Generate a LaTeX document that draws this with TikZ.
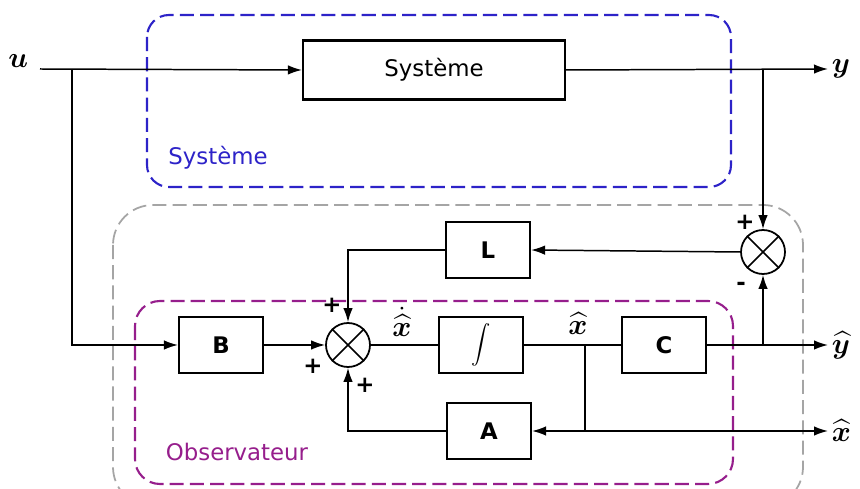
\documentclass[tikz,border=0pt]{standalone}
\usepackage{fix-cm}
\usepackage{fontspec}
\setmainfont{DejaVu Sans}
\usepackage{amsmath,bm}
\usetikzlibrary{positioning,arrows.meta}
\definecolor{sysblue}{RGB}{45,35,200}
\definecolor{obsviolet}{RGB}{150,30,140}
\definecolor{obsgray}{RGB}{165,165,165}
\newcommand{\blkfont}{\fontsize{13}{16}\selectfont}
\newcommand{\sigfont}{\fontsize{16.5}{19}\selectfont}

\begin{document}
\begin{tikzpicture}[x=0.2mm, y=-0.2mm,
    blk/.style={draw, line width=1.2pt, minimum width=1.68cm, minimum height=1.12cm, inner sep=0pt, font=\blkfont\bfseries},
    sum/.style={draw, circle, line width=1pt, minimum size=0.88cm, inner sep=0pt},
    sig/.style={-{Latex[length=2.8mm, width=1.9mm]}, line width=0.85pt},
    wire/.style={line width=0.85pt},
    zone/.style={line width=1.2pt, dash pattern=on 8pt off 3.5pt},
    sgn/.style={font=\fontsize{13}{15}\selectfont\bfseries, inner sep=1pt},
    lbl/.style={font=\sigfont, inner sep=2pt}
  ]
  \useasboundingbox (0,0) rectangle (860,489);

  \draw[zone, draw=obsgray, line width=1pt, rounded corners=8mm] (113,205) rectangle (803,507);
  \draw[zone, draw=sysblue, rounded corners=4.4mm] (147,15) rectangle (731,187);
  \draw[zone, draw=obsviolet, rounded corners=5mm] (135,301) rectangle (733,484);
  \node[font=\blkfont, text=sysblue] (syslbl) at (218,158) {Système};
  \node[font=\blkfont, text=obsviolet] (obslbl) at (237,452) {Observateur};

  \node[blk, minimum width=5.24cm, minimum height=1.18cm, font=\blkfont] (sys) at (434,70) {Système};
  \node[blk] (B) at (221,345) {B};
  \node[sum] (s1) at (348,345) {};
  \node[blk, font=\fontsize{11}{13}\selectfont] (int) at (481,345) {$\displaystyle\int$};
  \node[blk] (C) at (664,345) {C};
  \node[blk] (L) at (488,250) {L};
  \node[blk] (A) at (489,431) {A};
  \node[sum] (s2) at (763,252) {};
  \draw[line width=0.9pt] (s1.north west) -- (s1.south east) (s1.north east) -- (s1.south west);
  \draw[line width=0.9pt] (s2.north west) -- (s2.south east) (s2.north east) -- (s2.south west);

  \coordinate (uin) at (40,69);
  \coordinate (ubr) at (72,69);
  \coordinate (ybr) at (763,69);
  \coordinate (yout) at (828,69);
  \coordinate (xbr) at (585,345);
  \coordinate (xbr2) at (585,431);
  \coordinate (yhbr) at (763,345);
  \coordinate (yhout) at (828,345);
  \coordinate (xhout) at (828,431);

  \node[lbl, anchor=base east] (u) at (32,68) {$\bm{u}$};
  \node[lbl, anchor=west] (y) at (yout) {$\bm{y}$};
  \node[lbl, anchor=west] (yh) at (yhout) {$\widehat{\bm{y}}$};
  \node[lbl, anchor=west] (xh) at (xhout) {$\widehat{\bm{x}}$};
  \node[lbl] (xhdot) at (402,322) {$\dot{\widehat{\bm{x}}}$};
  \node[lbl] (xhmid) at (578,324) {$\widehat{\bm{x}}$};

  \draw[sig] (uin) -- (sys.west);
  \draw[sig] (sys.east) -- (yout);
  \draw[sig] (ubr) |- (B.west);
  \draw[sig] (ybr) -- (s2.north);
  \draw[sig] (B.east) -- (s1.west);
  \draw[wire] (s1.east) -- (int.west);
  \draw[wire] (int.east) -- (C.west);
  \draw[sig] (C.east) -- (yhout);
  \draw[sig] (yhbr) -- (s2.south);
  \draw[sig] (s2.west) -- (L.east);
  \draw[sig] (L.west) -| (s1.north);
  \draw[wire] (xbr) -- (xbr2);
  \draw[sig] (xbr2) -- (A.east);
  \draw[sig] (xbr2) -- (xhout);
  \draw[sig] (A.west) -| (s1.south);

  \node[sgn] (p1) at (332,305) {+};
  \node[sgn] (p2) at (313,366) {+};
  \node[sgn] (p3) at (365,385) {+};
  \node[sgn] (p4) at (745,222) {+};
  \node[sgn] (m1) at (741,286) {-};
\end{tikzpicture}
\end{document}
